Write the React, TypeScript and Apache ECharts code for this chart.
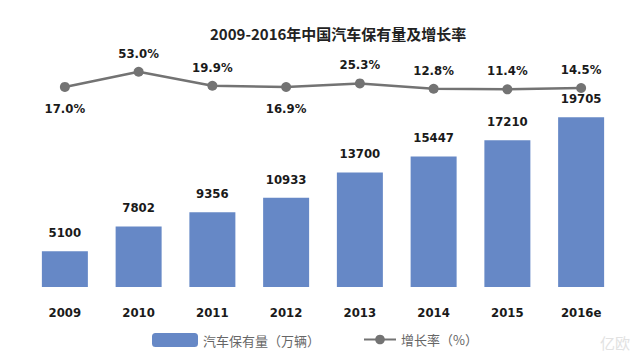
import React, { useEffect, useRef } from "react";
import * as echarts from "echarts";

const years = ["2009", "2010", "2011", "2012", "2013", "2014", "2015", "2016e"];
const carStock = [5100, 7802, 9356, 10933, 13700, 15447, 17210, 19705];
const growthRate = [17.0, 53.0, 19.9, 16.9, 25.3, 12.8, 11.4, 14.5];
const labelBelow = [true, false, false, true, false, false, false, false];

const titleText = "2009-2016年中国汽车保有量及增长率";
const barName = "汽车保有量（万辆）";
const lineName = "增长率（%）";

export default function App() {
  const ref = useRef<HTMLDivElement>(null);
  useEffect(() => {
    if (!ref.current) return;
    const chart = echarts.init(ref.current, null, { renderer: "svg" });
    const narrow = "'DejaVu Sans Condensed', 'Liberation Sans Narrow', sans-serif";
    chart.setOption({
      animation: false,
      backgroundColor: "#ffffff",
      title: {
        text: titleText,
        left: 205,
        top: 21,
        textStyle: {
          fontFamily: "'Noto Sans CJK SC', sans-serif",
          fontSize: 15,
          fontWeight: "bold",
          color: "#222",
        },
      },
      legend: [
        {
          data: [barName],
          left: 147,
          top: 328,
          itemWidth: 46,
          itemHeight: 14,
          itemGap: 4,
          textStyle: { color: "#666", fontSize: 13, fontFamily: "'Noto Sans CJK SC', sans-serif" },
        },
        {
          data: [lineName],
          left: 358,
          top: 328,
          itemWidth: 32,
          itemHeight: 12,
          textStyle: { color: "#666", fontSize: 13, fontFamily: "'Noto Sans CJK SC', sans-serif" },
        },
      ],
      grid: [
        { left: 28, right: 22, top: 100, bottom: 73 },
        { left: 28, right: 22, top: 60, height: 40 },
      ],
      xAxis: [
        {
          type: "category",
          data: years,
          gridIndex: 0,
          axisLine: { show: false },
          axisTick: { show: false },
          axisLabel: {
            margin: 19,
            color: "#1a1a1a",
            fontSize: 13,
            fontWeight: "bold",
            fontFamily: narrow,
          },
        },
        {
          type: "category",
          data: years,
          gridIndex: 1,
          show: false,
        },
      ],
      yAxis: [
        { type: "value", gridIndex: 0, min: 1200, max: 21600, show: false, splitLine: { show: false } },
        { type: "value", gridIndex: 1, min: -14, max: 81, show: false, splitLine: { show: false } },
      ],
      series: [
        {
          name: barName,
          type: "bar",
          xAxisIndex: 0,
          yAxisIndex: 0,
          data: carStock,
          barWidth: 46,
          itemStyle: { color: "#6688c6" },
          label: {
            show: true,
            position: "top",
            distance: 12,
            color: "#1a1a1a",
            fontSize: 13,
            fontWeight: "bold",
            fontFamily: narrow,
          },
        },
        {
          name: lineName,
          type: "line",
          xAxisIndex: 1,
          yAxisIndex: 1,
          data: growthRate.map((v, i) => ({
            value: v,
            label: { position: labelBelow[i] ? "bottom" : "top", distance: labelBelow[i] ? 10 : 7 },
          })),
          symbol: "circle",
          symbolSize: 10,
          lineStyle: { color: "#737373", width: 2.5 },
          itemStyle: { color: "#737373" },
          label: {
            show: true,
            formatter: (p: any) => p.value.toFixed(1) + "%",
            color: "#1a1a1a",
            fontSize: 13,
            fontWeight: "bold",
            fontFamily: narrow,
          },
        },
      ],
      graphic: [
        {
          type: "text",
          right: 10,
          top: 335,
          style: {
            text: "亿欧",
            fill: "#e2e2e2",
            fontSize: 15,
            fontFamily: "'Noto Sans CJK SC', sans-serif",
          },
        },
      ],
    });
    return () => chart.dispose();
  }, []);
  return (
    <div
      ref={ref}
      style={{ position: "fixed", left: 0, top: 0, width: 640, height: 360, background: "#fff" }}
    />
  );
}
